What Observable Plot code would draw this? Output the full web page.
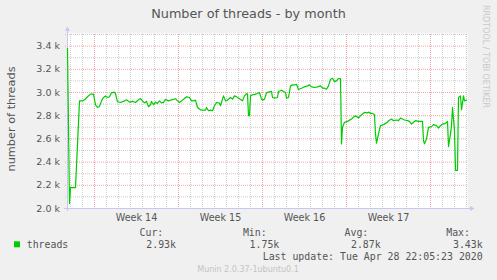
<!DOCTYPE html>
<html><head><meta charset="utf-8">
<script src="https://cdn.jsdelivr.net/npm/d3@7"></script>
<script src="https://cdn.jsdelivr.net/npm/@observablehq/plot@0.6"></script>
<style>
html,body{margin:0;padding:0;background:#f0f0f0;}
#wrap{position:relative;width:497px;height:280px;background:#f0f0f0;overflow:hidden;}
#wrap svg{display:block;}
</style></head>
<body><div id="wrap"></div>
<script>
// ---- data ----
const times = [
"03-27T18","03-27T22","03-28T00","03-28T10","03-28T18","03-29T00","03-29T04","03-29T10","03-29T16","03-29T22",
"03-30T02","03-30T06","03-30T10","03-30T14","03-30T18","03-30T22","03-31T02","03-31T06","03-31T10","03-31T16",
"03-31T18","03-31T22","04-01T04","04-01T12","04-01T16","04-01T22","04-02T04","04-02T10","04-02T16","04-02T20",
"04-03T00","04-03T04","04-03T08","04-03T12","04-03T16","04-03T18","04-03T22","04-04T02","04-04T06","04-04T10",
"04-04T14","04-04T18","04-04T22","04-05T04","04-05T10","04-05T18","04-05T22","04-06T02","04-06T06","04-06T12",
"04-06T16","04-06T22","04-07T02","04-07T06","04-07T10","04-07T14","04-07T20","04-08T00","04-08T06","04-08T08",
"04-08T12","04-08T16","04-08T20","04-09T00","04-09T04","04-09T10","04-09T12","04-09T18","04-09T22","04-10T02",
"04-10T08","04-10T12","04-10T16","04-10T20","04-10T22","04-11T04","04-11T08","04-11T12","04-11T16","04-11T18",
"04-11T20","04-11T22","04-12T00","04-12T04","04-12T10","04-12T14","04-12T18","04-12T22","04-13T00","04-13T04",
"04-13T08","04-13T12","04-13T18","04-13T20","04-14T00","04-14T06","04-14T08","04-14T14","04-14T18","04-14T22",
"04-15T00","04-15T04","04-15T08","04-15T12","04-15T18","04-15T20","04-16T00","04-16T06","04-16T12","04-16T18",
"04-16T22","04-17T02","04-17T08","04-17T14","04-17T20","04-18T00","04-18T04","04-18T08","04-18T12","04-18T16",
"04-18T20","04-19T00","04-19T04","04-19T08","04-19T12","04-19T14","04-19T16","04-19T20","04-20T02","04-20T10",
"04-20T16","04-20T18","04-21T00","04-21T04","04-21T08","04-21T12","04-21T18","04-21T20","04-22T00","04-22T04",
"04-22T08","04-22T10","04-22T12","04-22T16","04-22T20","04-23T02","04-23T10","04-23T12","04-23T18","04-23T22",
"04-24T04","04-24T08","04-24T12","04-24T16","04-24T20","04-25T02","04-25T06","04-25T10","04-25T14","04-25T18",
"04-26T00","04-26T08","04-26T10","04-26T12","04-26T16","04-26T20","04-27T02","04-27T06","04-27T12","04-27T16",
"04-27T20","04-28T00","04-28T06","04-28T10","04-28T12","04-28T16","04-28T18","04-28T20","04-29T00","04-29T02",
"04-29T06","04-29T08","04-29T12","04-29T14","04-29T18","04-29T20","04-30T00"
];
const threads = [
3380,2043,2180,2180,2928,2928,2937,2963,2986,2986,
2894,2871,2880,2928,2957,2969,2957,2963,2997,3003,
2991,2920,2914,2928,2937,2917,2923,2914,2937,2948,
2928,2911,2923,2877,2894,2923,2894,2917,2906,2928,
2911,2915,2940,2928,2937,2946,2928,2914,2928,2948,
2963,2957,2928,2928,2934,2871,2851,2848,2848,2871,
2843,2848,2843,2886,2914,2908,2886,2971,2928,2934,
2957,2943,2971,2963,2957,2940,2928,2971,2991,2986,
2800,2800,2971,2980,2986,2991,3000,2943,2934,2943,
2997,3003,3009,2957,2951,2957,3009,3020,3009,3000,
2951,2957,3057,3066,3066,3071,3026,3037,3049,3057,
3066,3049,3043,3049,3057,3037,3037,3028,3057,3114,
3123,3094,3100,3120,3120,2557,2700,2743,2751,2771,
2794,2800,2780,2800,2814,2828,2824,2831,2820,2820,
2808,2643,2563,2643,2714,2723,2743,2757,2771,2757,
2763,2757,2780,2771,2763,2757,2751,2728,2743,2757,
2751,2751,2586,2557,2600,2700,2706,2723,2714,2694,
2714,2728,2734,2751,2534,2643,2714,2871,2671,2329,
2329,2957,2971,2851,2971,2928,2934
];
const xRange = ["03-27T18", "04-30T02"];
const yRange = [2000, 3500];
const yLabelTicks = [2000, 2200, 2400, 2600, 2800, 3000, 3200, 3400];
const yMinorGrid = [2100, 2300, 2500, 2700, 2900, 3100, 3300, 3500];
const weekStarts = ["03-30T00", "04-06T00", "04-13T00", "04-20T00", "04-27T00"];
const weekLabels = ["Week 14", "Week 15", "Week 16", "Week 17"];
const weekLabelAt = ["04-02T12", "04-09T12", "04-16T12", "04-23T12"];
const legendName = "threads";
const legendHeads = ["Cur:", "Min:", "Avg:", "Max:"];
const legendValues = ["2.93k", "1.75k", "2.87k", "3.43k"];
const titleText = "Number of threads - by month";
const yTitle = "number of threads";
const lastUpdate = "Last update: Tue Apr 28 22:05:23 2020";
const footer = "Munin 2.0.37-1ubuntu0.1";
const sideText = "RRDTOOL / TOBI OETIKER";

// ---- build ----
const parseT = s => d3.utcParse("%Y-%m-%dT%H")("2020-" + s);
const data = times.map((t, i) => ({t: parseT(t), v: threads[i]}));
const xDom = xRange.map(parseT);
const mondays = weekStarts.map(parseT);
const days = d3.utcDay.range(parseT("03-28T00"), parseT("04-30T01"))
  .filter(d => !mondays.some(m => +m === +d));
const yMajorGrid = yLabelTicks.filter(v => v > yRange[0]);
const weekLab = weekLabels.map((w, i) => ({t: parseT(weekLabelAt[i]), w}));

const GRID = "#cdcdcd", MGRID = "#f2a3a3", AXIS = "#c6c8f0", TXT = "#555";
const triUp = {draw(ctx){ctx.moveTo(0,-3);ctx.lineTo(2.5,1.5);ctx.lineTo(-2.5,1.5);ctx.closePath();}};
const triRight = {draw(ctx){ctx.moveTo(3,0);ctx.lineTo(-1.5,-2.5);ctx.lineTo(-1.5,2.5);ctx.closePath();}};

const chart = Plot.plot({
  width: 497, height: 280,
  marginLeft: 67, marginRight: 30, marginTop: 34, marginBottom: 72,
  style: {background: "transparent", fontFamily: "DejaVu Sans", fontSize: "10px", overflow: "visible"},
  x: {type: "utc", domain: xDom, axis: null},
  y: {domain: yRange, axis: null},
  marks: [
    Plot.frame({fill: "white", stroke: null, insetTop: -1}),
    Plot.ruleX(days, {stroke: GRID, strokeDasharray: "1,1", insetBottom: -2}),
    Plot.ruleY(yMinorGrid, {stroke: GRID, strokeDasharray: "1,1", insetLeft: -2}),
    Plot.ruleX(mondays, {stroke: MGRID, strokeDasharray: "1,1", insetBottom: -2}),
    Plot.ruleY(yMajorGrid, {stroke: MGRID, strokeDasharray: "1,1", insetLeft: -2}),
    Plot.ruleY([yRange[0]], {stroke: AXIS, insetLeft: -3, insetRight: -4}),
    Plot.ruleX([xDom[0]], {stroke: AXIS, insetTop: -4, insetBottom: -3}),
    Plot.dot([0], {x: () => xDom[0], y: () => yRange[1], symbol: triUp, fill: AXIS, stroke: null, dy: -5}),
    Plot.dot([0], {x: () => xDom[1], y: () => yRange[0], symbol: triRight, fill: AXIS, stroke: null, dx: 4}),
    Plot.line(data, {x: "t", y: "v", stroke: "#00cc00", strokeWidth: 1.2}),
    Plot.text(yLabelTicks, {x: () => xDom[0], y: d => d, text: d => (d / 1000).toFixed(1) + " k",
      textAnchor: "end", dx: -7.5, fill: TXT, fontSize: 9.5}),
    Plot.text(weekLab, {x: "t", y: () => yRange[0], text: "w", dy: 9.5, fill: TXT, fontSize: 9.6})
  ]
});

document.getElementById("wrap").appendChild(chart);
const svg = d3.select(chart);
const addText = (txt, x, y, opts = {}) => {
  const t = svg.append("text").text(txt)
    .attr("x", x).attr("y", y)
    .attr("fill", opts.fill || TXT)
    .attr("font-family", opts.family || "DejaVu Sans")
    .attr("font-size", opts.size || 10)
    .attr("text-anchor", opts.anchor || "start");
  if (opts.transform) t.attr("transform", opts.transform).attr("x", 0).attr("y", 0);
  return t;
};
addText(titleText, 248.5, 17.8, {anchor: "middle", size: 12.8});
addText(yTitle, 0, 0, {anchor: "middle", size: 11.3, transform: "translate(15,119) rotate(-90)"});
addText(sideText, 0, 0, {size: 8, fill: "#c8c8c8", transform: "translate(482.5,5) rotate(90)"});

const MONO = "DejaVu Sans Mono";
svg.append("rect").attr("x", 14).attr("y", 241.3).attr("width", 6).attr("height", 6).attr("fill", "#00cc00");
addText(legendName, 26.7, 247.8, {family: MONO, size: 9.9});
const headRight = [163.3, 266.7, 368.3, 470];
const valRight = [176, 279.3, 380.7, 482.7];
legendHeads.forEach((h, i) => addText(h, headRight[i], 236.3, {family: MONO, size: 9.9, anchor: "end"}));
legendValues.forEach((v, i) => addText(v, valRight[i], 247.8, {family: MONO, size: 9.9, anchor: "end"}));
addText(lastUpdate, 482.7, 259.5, {family: MONO, size: 9.9, anchor: "end"});
addText(footer, 248, 271.8, {anchor: "middle", size: 8, fill: "#c4c4c4"});
</script>
</body></html>
